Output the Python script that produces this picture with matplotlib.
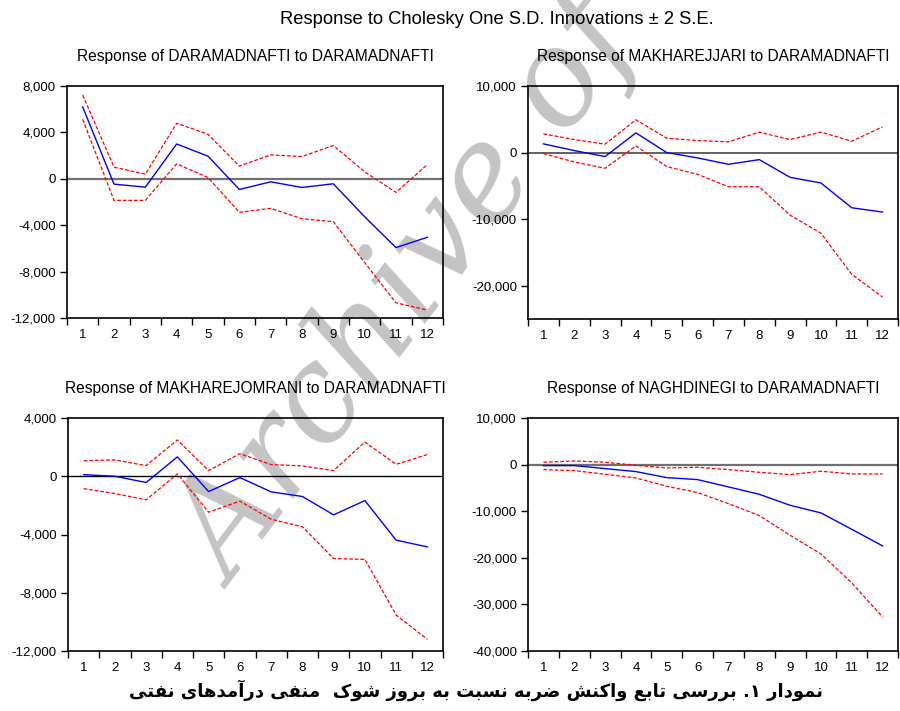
import matplotlib
matplotlib.use("Agg")
import matplotlib.pyplot as plt
from matplotlib.ticker import FixedLocator, FuncFormatter, NullFormatter

plt.rcParams['axes.unicode_minus'] = False
plt.rcParams['font.family'] = ['Liberation Sans', 'DejaVu Sans']

periods = list(range(1, 13))

# Response of DARAMADNAFTI to DARAMADNAFTI
daramad_resp = [6200, -460, -720, 3000, 1950, -920, -260, -745, -430, -3270, -5930, -5040]
daramad_hi = [7220, 1000, 400, 4790, 3840, 1090, 2060, 1920, 2870, 600, -1170, 1230]
daramad_lo = [5130, -1860, -1860, 1290, 110, -2890, -2550, -3440, -3700, -7220, -10690, -11320]

# Response of MAKHAREJJARI to DARAMADNAFTI
jari_resp = [1310, 300, -600, 2960, 0, -800, -1760, -1060, -3720, -4570, -8290, -8940]
jari_hi = [2810, 1960, 1260, 4920, 2160, 1810, 1610, 3070, 1960, 3070, 1710, 3870]
jari_lo = [-150, -1410, -2360, 1000, -2110, -3270, -5130, -5130, -9400, -12110, -18290, -21710]

# Response of MAKHAREJOMRANI to DARAMADNAFTI
omrani_resp = [110, 0, -430, 1330, -1050, -90, -1070, -1390, -2650, -1670, -4390, -4850]
omrani_hi = [1070, 1120, 730, 2490, 390, 1550, 800, 710, 390, 2350, 820, 1490]
omrani_lo = [-850, -1190, -1620, 160, -2470, -1710, -2950, -3470, -5650, -5710, -9530, -11200]

# Response of NAGHDINEGI to DARAMADNAFTI
naghd_resp = [-210, -210, -860, -1500, -2790, -3220, -4790, -6370, -8730, -10370, -13880, -17450]
naghd_hi = [500, 790, 500, -140, -720, -570, -1070, -1650, -2150, -1430, -2000, -2000]
naghd_lo = [-1070, -1290, -2070, -2860, -4650, -6010, -8370, -10940, -15160, -19170, -25390, -32690]

suptitle = "Response to Cholesky One S.D. Innovations ± 2 S.E."
caption = "نمودار ۱. بررسی تابع واکنش ضربه نسبت به بروز شوک  منفی درآمدهای نفتی"

panels = [
    ("Response of DARAMADNAFTI to DARAMADNAFTI", daramad_resp, daramad_hi, daramad_lo,
     [8000, 4000, 0, -4000, -8000, -12000], (-12000, 8000), "#707070", 1.6),
    ("Response of MAKHAREJJARI to DARAMADNAFTI", jari_resp, jari_hi, jari_lo,
     [10000, 0, -10000, -20000], (-25000, 10000), "#606060", 1.4),
    ("Response of MAKHAREJOMRANI to DARAMADNAFTI", omrani_resp, omrani_hi, omrani_lo,
     [4000, 0, -4000, -8000, -12000], (-12000, 4000), "black", 1.0),
    ("Response of NAGHDINEGI to DARAMADNAFTI", naghd_resp, naghd_hi, naghd_lo,
     [10000, 0, -10000, -20000, -30000, -40000], (-40000, 10000), "#707070", 1.6),
]

# axes boxes in pixels: left, right, top, bottom
boxes = [(67, 443, 86, 318), (528, 898, 86, 319), (68, 443, 418, 651), (528, 898, 418, 651)]

# simple shaping for persian text (matplotlib does no arabic shaping)
forms = {
    'ا': ('\uFE8D', '\uFE8E', None, None), 'آ': ('\uFE81', '\uFE82', None, None),
    'ب': ('\uFE8F', '\uFE90', '\uFE91', '\uFE92'), 'ت': ('\uFE95', '\uFE96', '\uFE97', '\uFE98'),
    'د': ('\uFEA9', '\uFEAA', None, None), 'ر': ('\uFEAD', '\uFEAE', None, None),
    'ز': ('\uFEAF', '\uFEB0', None, None), 'س': ('\uFEB1', '\uFEB2', '\uFEB3', '\uFEB4'),
    'ش': ('\uFEB5', '\uFEB6', '\uFEB7', '\uFEB8'), 'ض': ('\uFEBD', '\uFEBE', '\uFEBF', '\uFEC0'),
    'ع': ('\uFEC9', '\uFECA', '\uFECB', '\uFECC'), 'ف': ('\uFED1', '\uFED2', '\uFED3', '\uFED4'),
    'م': ('\uFEE1', '\uFEE2', '\uFEE3', '\uFEE4'), 'ن': ('\uFEE5', '\uFEE6', '\uFEE7', '\uFEE8'),
    'ه': ('\uFEE9', '\uFEEA', '\uFEEB', '\uFEEC'), 'و': ('\uFEED', '\uFEEE', None, None),
    'ک': ('\uFB8E', '\uFB8F', '\uFB90', '\uFB91'), 'ی': ('\uFBFC', '\uFBFD', '\uFBFE', '\uFBFF'),
}


def shape(text):
    out = []
    for i, ch in enumerate(text):
        if ch not in forms:
            out.append(ch)
            continue
        prev = text[i - 1] if i > 0 else ''
        nxt = text[i + 1] if i + 1 < len(text) else ''
        join_prev = prev in forms and forms[prev][2] is not None
        join_next = forms[ch][2] is not None and nxt in forms
        iso, fin, ini, med = forms[ch]
        if join_prev and join_next:
            out.append(med)
        elif join_prev:
            out.append(fin)
        elif join_next:
            out.append(ini)
        else:
            out.append(iso)
    return ''.join(out)[::-1]


W, H = 900, 711
fig = plt.figure(figsize=(W / 100, H / 100), dpi=100)

# watermark
fig.text(235 / W, 1 - 590 / H, "Archive of SID", rotation=53, rotation_mode='anchor',
         ha='left', va='baseline', fontsize=95, color='#c4c4c4', style='italic',
         family='DejaVu Serif', zorder=-1)

fmt = FuncFormatter(lambda v, p: "{:,.0f}".format(v))

for (title, resp, hi, lo, yticks, ylim, zcol, zlw), (l, r, t, b) in zip(panels, boxes):
    ax = fig.add_axes([l / W, 1 - b / H, (r - l) / W, (b - t) / H])
    ax.set_facecolor('none')
    ax.axhline(0, color=zcol, lw=zlw, zorder=1)
    ax.plot(periods, hi, color='red', lw=0.9, ls=(0, (3, 1.5)), zorder=2)
    ax.plot(periods, lo, color='red', lw=0.9, ls=(0, (3, 1.5)), zorder=2)
    ax.plot(periods, resp, color='blue', lw=1.0, zorder=3)
    ax.set_xlim(0.5, 12.5)
    ax.set_ylim(*ylim)
    ax.set_yticks(yticks)
    ax.yaxis.set_major_formatter(fmt)
    ax.xaxis.set_major_locator(FixedLocator([k + 0.5 for k in range(0, 13)]))
    ax.xaxis.set_major_formatter(NullFormatter())
    ax.xaxis.set_minor_locator(FixedLocator(periods))
    ax.xaxis.set_minor_formatter(FuncFormatter(lambda v, p: "%d" % v))
    ax.tick_params(axis='x', which='major', length=5, width=1, direction='out')
    ax.tick_params(axis='x', which='minor', length=0, pad=8, labelsize=9.5)
    ax.tick_params(axis='y', length=5, width=1, direction='out', pad=3, labelsize=9.5)
    for s in ax.spines.values():
        s.set_linewidth(1.2)
    ax.set_title(title, fontsize=11.2, pad=18)

fig.text(497 / W, 1 - 20 / H, suptitle, ha='center', va='center', fontsize=13.2)

fig.text(476 / W, 1 - 690 / H, shape(caption), ha='center', va='center', fontsize=13,
         family='DejaVu Sans', weight='bold')

fig.savefig("out.png", dpi=100)
